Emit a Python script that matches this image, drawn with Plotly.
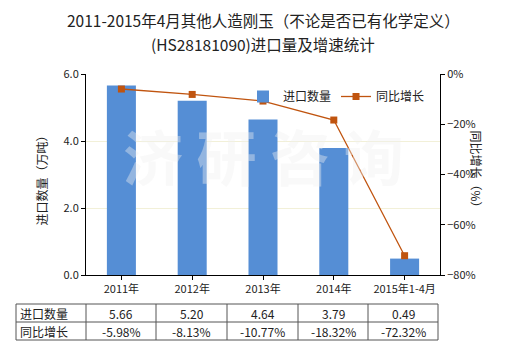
import plotly.graph_objects as go

categories = ["2011年", "2012年", "2013年", "2014年", "2015年1-4月"]
import_qty = [5.66, 5.20, 4.64, 3.79, 0.49]
yoy_growth = [-5.98, -8.13, -10.77, -18.32, -72.32]
row_labels = ["进口数量", "同比增长"]
title_lines = ["2011-2015年4月其他人造刚玉（不论是否已有化学定义）", "(HS28181090)进口量及增速统计"]

FONT = "Noto Sans CJK SC, Microsoft YaHei, sans-serif"
BAR_C = "#558ED5"
LINE_C = "#C0540F"

L, R, T, B = 86, 440, 74, 275
W, H = 520, 350

def px(x):
    return (x - L) / (R - L)

def py(y):
    return (B - y) / (B - T)

fig = go.Figure()
fig.add_trace(go.Bar(x=categories, y=import_qty, name="进口数量",
                     marker=dict(color=BAR_C, line=dict(width=0)), width=0.41))
fig.add_trace(go.Scatter(x=categories, y=yoy_growth, name="同比增长", yaxis="y2",
                         mode="lines+markers",
                         line=dict(color=LINE_C, width=1.3),
                         marker=dict(symbol="square", size=7, color="#C0540F")))

shapes = []
annotations = []

# title
for i, t in enumerate(title_lines):
    annotations.append(dict(text=t, x=0.5, y=py(20 + 24 * i), xref="paper", yref="paper",
                            xanchor="center", yanchor="middle", showarrow=False,
                            font=dict(family=FONT, size=15.5, color="#222222")))

# watermark
annotations.append(dict(text="<b>济 研 咨 询</b>", x=0.5, y=0.6, xref="paper", yref="paper",
                        showarrow=False, font=dict(family=FONT, size=60, color="rgba(240,240,240,0.4)")))

# table
cols = [16, 86, 156, 227, 298, 368, 438]
rows = [304, 322, 340]
for xv in cols:
    shapes.append(dict(type="line", xref="paper", yref="paper", x0=px(xv), x1=px(xv),
                       y0=py(rows[0]), y1=py(rows[-1]), line=dict(color="#555555", width=1)))
for yv in rows:
    shapes.append(dict(type="line", xref="paper", yref="paper", x0=px(cols[0]), x1=px(cols[-1]),
                       y0=py(yv), y1=py(yv), line=dict(color="#555555", width=1)))
row_vals = [[f"{v:.2f}" for v in import_qty], [f"{v:.2f}%" for v in yoy_growth]]
for ri, lab in enumerate(row_labels):
    yc = py((rows[ri] + rows[ri + 1]) / 2)
    annotations.append(dict(text=lab, x=px(cols[0] + 2), y=yc, xref="paper", yref="paper",
                            xanchor="left", yanchor="middle", showarrow=False,
                            font=dict(family=FONT, size=12, color="#222222")))
    for ci, v in enumerate(row_vals[ri]):
        annotations.append(dict(text=v, x=px((cols[ci + 1] + cols[ci + 2]) / 2), y=yc,
                                xref="paper", yref="paper", xanchor="center", yanchor="middle",
                                showarrow=False, font=dict(family=FONT, size=12, color="#222222")))

# axis titles
annotations.append(dict(text="进口数量（万吨）", x=px(30), y=py(178), xref="paper", yref="paper",
                        textangle=-90, showarrow=False, font=dict(family=FONT, size=12, color="#222222")))
annotations.append(dict(text="同比增长（%）", x=px(487), y=py(172), xref="paper", yref="paper",
                        textangle=90, showarrow=False, font=dict(family=FONT, size=12, color="#222222")))

fig.update_layout(
    width=W, height=H,
    margin=dict(l=L, r=W - R, t=T, b=H - B),
    paper_bgcolor="white", plot_bgcolor="white",
    font=dict(family=FONT, size=11, color="#222222"),
    bargap=0.59,
    xaxis=dict(type="category", showline=True, linecolor="black", linewidth=1,
               ticks="outside", ticklen=4, tickcolor="black", showgrid=False,
               tickfont=dict(size=11)),
    yaxis=dict(range=[0, 6], dtick=2, tickformat=".1f", showline=True, linecolor="black",
               ticks="outside", ticklen=4, tickcolor="black",
               gridcolor="#F2F0D8", gridwidth=1, zeroline=False, tickfont=dict(size=11)),
    yaxis2=dict(range=[-80, 0], dtick=20, ticksuffix="%", overlaying="y", side="right",
                showline=True, linecolor="black", ticks="outside", ticklen=4, tickcolor="black",
                showgrid=False, zeroline=False, tickfont=dict(size=11)),
    legend=dict(orientation="h", x=px(243), y=py(82), xanchor="left", yanchor="top",
                bgcolor="rgba(0,0,0,0)", font=dict(size=12), itemwidth=30),
    shapes=shapes, annotations=annotations,
)

fig.write_html("out.html")
